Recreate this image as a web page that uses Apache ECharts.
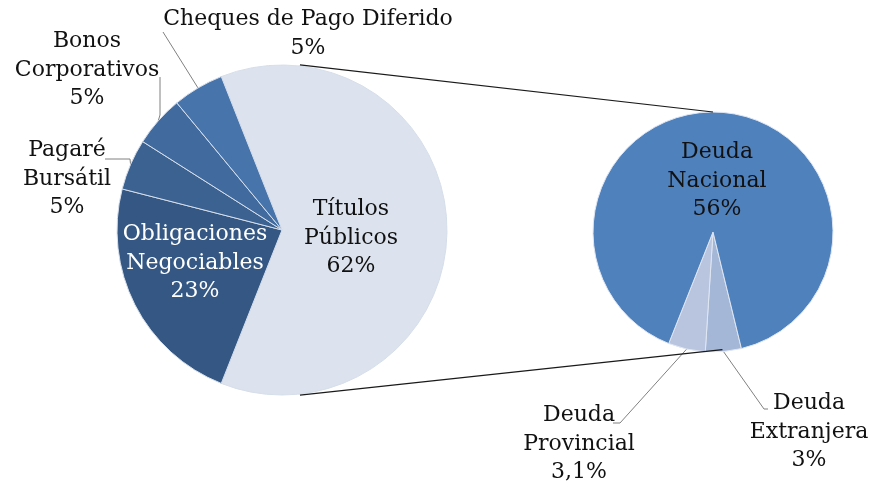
<!DOCTYPE html>
<html>
<head>
<meta charset="utf-8">
<script src="https://cdn.jsdelivr.net/npm/echarts@6/dist/echarts.min.js"></script>
<style>
  html, body { margin: 0; padding: 0; background: #fff; }
  #chart { width: 889px; height: 487px; }
</style>
</head>
<body>
<div id="chart"></div>
<script>
// main pie
const mainNames = ['Títulos\nPúblicos', 'Obligaciones\nNegociables', 'Pagaré\nBursátil', 'Bonos\nCorporativos', 'Cheques de Pago Diferido']
const mainValues = [62, 23, 5, 5, 5]
// detail pie (breakdown of Títulos Públicos)
const subNames = ['Deuda\nExtranjera', 'Deuda\nProvincial', 'Deuda\nNacional']
const subValues = [3, 3.1, 56]

const mainColors = ['#dce3ee', '#345783', '#3c6292', '#416b9f', '#4674ab']
const subColors = ['#a5b7d6', '#b9c5df', '#4f81bd']

// layout
const mainCenter = [282, 230], mainRadius = 165
const subCenter = [713, 232], subRadius = 120
const mainLabelPos = [[351, 238], [195, 263], [67, 179], [87, 70], [308, 34]]
const subLabelPos = [[809, 432], [579, 444], [717, 181]]
// leader line bends, from the slice edge to the label
const mainLeader = [null, null, [[130, 159], [105, 159]], [[160, 115], [160, 77]], [[163, 32]]]
const subLeader = [[[764, 409], [768, 409]], [[620, 423], [613, 423]], null]

const pct = v => String(v).replace('.', ',') + '%'
const font = { fontFamily: 'DejaVu Serif', fontSize: 22, lineHeight: 28.5, overflow: 'none' }

function pt(c, r, deg) {
  const a = deg * Math.PI / 180
  return [c[0] + r * Math.cos(a), c[1] - r * Math.sin(a)]
}

function layoutFor(posList, leaderList) {
  return p => {
    const pos = posList[p.dataIndex]
    const res = { x: pos[0], y: pos[1], align: 'center', verticalAlign: 'middle' }
    const bend = leaderList[p.dataIndex]
    if (bend && p.labelLinePoints) res.labelLinePoints = [p.labelLinePoints[0]].concat(bend)
    return res
  }
}

const chart = echarts.init(document.getElementById('chart'))

const leader = { show: true, length: 10, length2: 10, lineStyle: { color: '#808080', width: 1 } }

chart.setOption({
  animation: false,
  series: [
    {
      type: 'pie',
      center: mainCenter,
      radius: mainRadius,
      startAngle: 111.6,
      clockwise: true,
      itemStyle: { borderColor: '#d6deea', borderWidth: 1 },
      label: Object.assign({ color: '#111', formatter: p => p.name + '\n' + pct(p.value) }, font),
      labelLine: leader,
      labelLayout: layoutFor(mainLabelPos, mainLeader),
      data: mainNames.map((n, i) => ({
        name: n,
        value: mainValues[i],
        itemStyle: { color: mainColors[i] },
        label: i < 2 ? { position: 'inside', color: i === 1 ? '#fff' : '#111' } : { position: 'outside' },
        labelLine: { show: i >= 2 }
      }))
    },
    {
      type: 'pie',
      center: subCenter,
      radius: subRadius,
      startAngle: 283.7,
      clockwise: true,
      itemStyle: { borderColor: '#dfe6f2', borderWidth: 1 },
      label: Object.assign({ color: '#111', formatter: p => p.name + '\n' + pct(p.value) }, font),
      labelLine: leader,
      labelLayout: layoutFor(subLabelPos, subLeader),
      data: subNames.map((n, i) => ({
        name: n,
        value: subValues[i],
        itemStyle: { color: subColors[i] },
        label: { position: i === 2 ? 'inside' : 'outside' },
        labelLine: { show: i < 2 }
      }))
    }
  ],
  graphic: (() => {
    const a = pt(mainCenter, mainRadius + 1, 83.8), b = pt(subCenter, subRadius, 90)
    const c = pt(mainCenter, mainRadius + 1, -83.8), d = pt(subCenter, subRadius - 2, 274.6)
    const st = { stroke: '#1a1a1a', lineWidth: 1.2 }
    return [
      { type: 'line', z: 100, shape: { x1: a[0], y1: a[1], x2: b[0], y2: b[1] }, style: st },
      { type: 'line', z: 100, shape: { x1: c[0], y1: c[1], x2: d[0], y2: d[1] }, style: st }
    ]
  })()
})
</script>
</body>
</html>
